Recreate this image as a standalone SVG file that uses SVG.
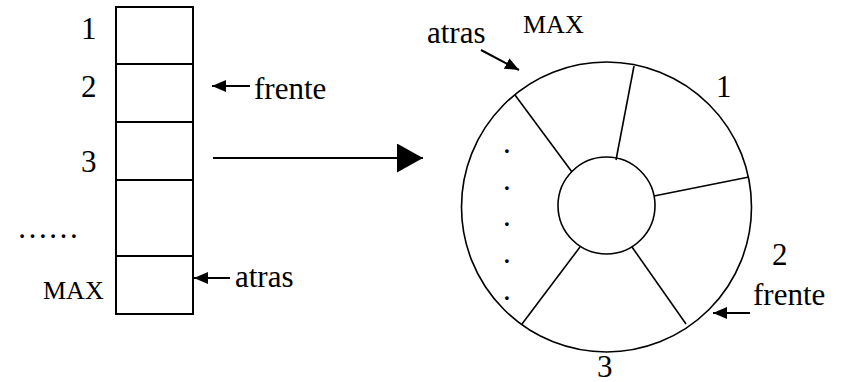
<svg xmlns="http://www.w3.org/2000/svg" width="842" height="382" viewBox="0 0 842 382">
<style>
.t{font-family:"Liberation Serif","DejaVu Serif","Noto Serif",serif;font-size:31px;fill:#000}
.s{font-family:"Liberation Serif","DejaVu Serif","Noto Serif",serif;font-size:26px;fill:#000}
.ln{stroke:#000;stroke-width:2;fill:none}
.th{stroke:#000;stroke-width:1.6;fill:none}
</style>
<defs>
<marker id="ah" markerUnits="userSpaceOnUse" markerWidth="14" markerHeight="12" refX="14" refY="6" orient="auto"><path d="M0,0 L14,6 L0,12 z" fill="#000"/></marker>
<marker id="big" markerUnits="userSpaceOnUse" markerWidth="26" markerHeight="29" refX="26" refY="14.5" orient="auto"><path d="M0,0 L26,14.5 L0,29 z" fill="#000"/></marker>
</defs>
<rect width="842" height="382" fill="#fff"/>
<g id="array">
<rect x="116" y="7" width="77" height="307" class="ln"/>
<line x1="116" y1="64" x2="193" y2="64" class="ln"/>
<line x1="116" y1="122" x2="193" y2="122" class="ln"/>
<line x1="116" y1="180" x2="193" y2="180" class="ln"/>
<line x1="116" y1="256" x2="193" y2="256" class="ln"/>
</g>
<g id="array-labels">
<text class="t" x="81" y="39">1</text>
<text class="t" x="81" y="97">2</text>
<text class="t" x="81" y="172">3</text>
<text class="t" x="17" y="238">……</text>
<text class="s" x="43" y="299">MAX</text>
<text class="t" x="254" y="99">frente</text>
<text class="t" x="235" y="287">atras</text>
</g>
<g id="ring">
<circle cx="606.5" cy="207" r="145" class="th"/>
<circle cx="606.5" cy="205.5" r="48.5" class="th"/>
<line x1="515" y1="95" x2="572" y2="172" class="th"/>
<line x1="634" y1="66" x2="616" y2="160" class="th"/>
<line x1="749" y1="177" x2="654" y2="196" class="th"/>
<line x1="632" y1="247" x2="686" y2="324" class="th"/>
<line x1="580" y1="247" x2="522" y2="324" class="th"/>
</g>
<g id="ring-labels">
<text class="t" x="503" y="153">.</text>
<text class="t" x="503" y="190">.</text>
<text class="t" x="503" y="226">.</text>
<text class="t" x="503" y="263">.</text>
<text class="t" x="503" y="300">.</text>
<text class="t" x="427" y="43">atras</text>
<text class="s" x="523" y="33">MAX</text>
<text class="t" x="716" y="97">1</text>
<text class="t" x="772" y="265">2</text>
<text class="t" x="753" y="305">frente</text>
<text class="t" x="597" y="377">3</text>
</g>
<g id="connectors">
<line x1="250" y1="86" x2="212" y2="86" class="ln" marker-end="url(#ah)"/>
<line x1="230" y1="278" x2="194" y2="278" class="ln" marker-end="url(#ah)"/>
<line x1="213" y1="158" x2="423" y2="158" class="ln" marker-end="url(#big)"/>
<line x1="481" y1="50" x2="519" y2="70" class="ln" marker-end="url(#ah)"/>
<line x1="750" y1="313" x2="713" y2="313" class="ln" marker-end="url(#ah)"/>
</g>
</svg>
